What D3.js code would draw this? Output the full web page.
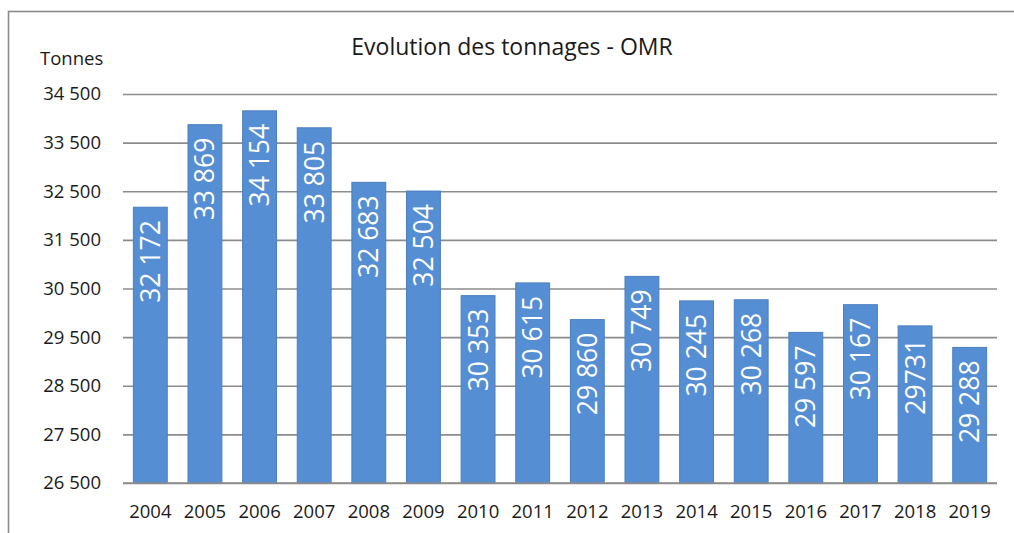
<!DOCTYPE html>
<html>
<head>
<meta charset="utf-8">
<script src="https://cdn.jsdelivr.net/npm/d3@7"></script>
<style>
    body { margin: 0; background: #fff; }
    svg { display: block; font-family: "Open Sans", sans-serif; }
</style>
</head>
<body>
<div id="chart"></div>
<script>
var years = ["2004", "2005", "2006", "2007", "2008", "2009", "2010", "2011",
             "2012", "2013", "2014", "2015", "2016", "2017", "2018", "2019"];
var tonnages = [32172, 33869, 34154, 33805, 32683, 32504, 30353, 30615,
                29860, 30749, 30245, 30268, 29597, 30167, 29731, 29288];
var barLabels = ["32 172", "33 869", "34 154", "33 805", "32 683", "32 504", "30 353", "30 615",
                 "29 860", "30 749", "30 245", "30 268", "29 597", "30 167", "29731", "29 288"];
var tickValues = [26500, 27500, 28500, 29500, 30500, 31500, 32500, 33500, 34500];
var tickLabels = ["26 500", "27 500", "28 500", "29 500", "30 500", "31 500", "32 500", "33 500", "34 500"];

var width = 1014, height = 533;
var plotLeft = 123, plotRight = 997, plotTop = 94, plotBottom = 483;

var svg = d3.select("#chart")
        .append("svg")
        .attr("width", width)
        .attr("height", height);

// chart frame (right and bottom edges fall outside the picture)
svg.append("rect")
        .attr("x", 8.5)
        .attr("y", 11.5)
        .attr("width", 1020)
        .attr("height", 540)
        .attr("fill", "none")
        .attr("stroke", "#8a8a8a")
        .attr("stroke-width", 1.6);

var x = d3.scaleBand()
        .domain(years)
        .range([plotLeft, plotRight])
        .paddingInner(0.38)
        .paddingOuter(0.19);
var y = d3.scaleLinear()
        .domain([26500, 34500])
        .range([plotBottom, plotTop]);

// gridlines + y labels
var yAxis = svg.append("g")
        .attr("transform", "translate(" + plotLeft + ",0)")
        .call(d3.axisLeft(y)
                .tickValues(tickValues)
                .tickSize(-(plotRight - plotLeft))
                .tickPadding(22)
                .tickFormat(function (d, i) { return tickLabels[i]; }));
yAxis.select(".domain").remove();
yAxis.selectAll("line")
        .attr("stroke", "#8c8c8c")
        .attr("stroke-width", 1.6);
yAxis.selectAll("text")
        .attr("fill", "#1a1a1a")
        .style("font-size", "18.5px")
        .style("font-family", "'Open Sans', sans-serif");

// year labels
var xAxis = svg.append("g")
        .attr("transform", "translate(0," + plotBottom + ")")
        .call(d3.axisBottom(x).tickSize(0).tickPadding(22));
xAxis.select(".domain").remove();
xAxis.selectAll("text")
        .attr("fill", "#1a1a1a")
        .style("font-size", "18.5px")
        .style("font-family", "'Open Sans', sans-serif");

// bars
svg.selectAll("rect.bar")
        .data(tonnages)
        .enter()
        .append("rect")
        .attr("class", "bar")
        .attr("x", function (d, i) { return x(years[i]); })
        .attr("y", function (d) { return y(d); })
        .attr("width", x.bandwidth())
        .attr("height", function (d) { return y(26500) - y(d); })
        .attr("fill", "#568ed4")
        .attr("stroke", "#4a7ec0")
        .attr("stroke-width", 1);

// baseline on top of bars
svg.append("line")
        .attr("x1", plotLeft)
        .attr("x2", plotRight)
        .attr("y1", y(26500))
        .attr("y2", y(26500))
        .attr("stroke", "#8c8c8c")
        .attr("stroke-width", 1.6);

// values inside bars
svg.selectAll("text.val")
        .data(tonnages)
        .enter()
        .append("text")
        .attr("class", "val")
        .attr("transform", function (d, i) {
            return "translate(" + (x(years[i]) + x.bandwidth() / 2) + "," + (y(d) + 13) + ") rotate(-90)";
        })
        .attr("text-anchor", "end")
        .attr("dy", "0.36em")
        .attr("fill", "#ffffff")
        .style("font-size", "26.5px")
        .text(function (d, i) { return barLabels[i]; });

svg.append("text")
        .attr("x", 512)
        .attr("y", 55)
        .attr("text-anchor", "middle")
        .attr("fill", "#1a1a1a")
        .style("font-size", "23px")
        .text("Evolution des tonnages - OMR");

svg.append("text")
        .attr("x", 40)
        .attr("y", 65)
        .attr("fill", "#1a1a1a")
        .style("font-size", "18.5px")
        .text("Tonnes");
</script>
</body>
</html>
